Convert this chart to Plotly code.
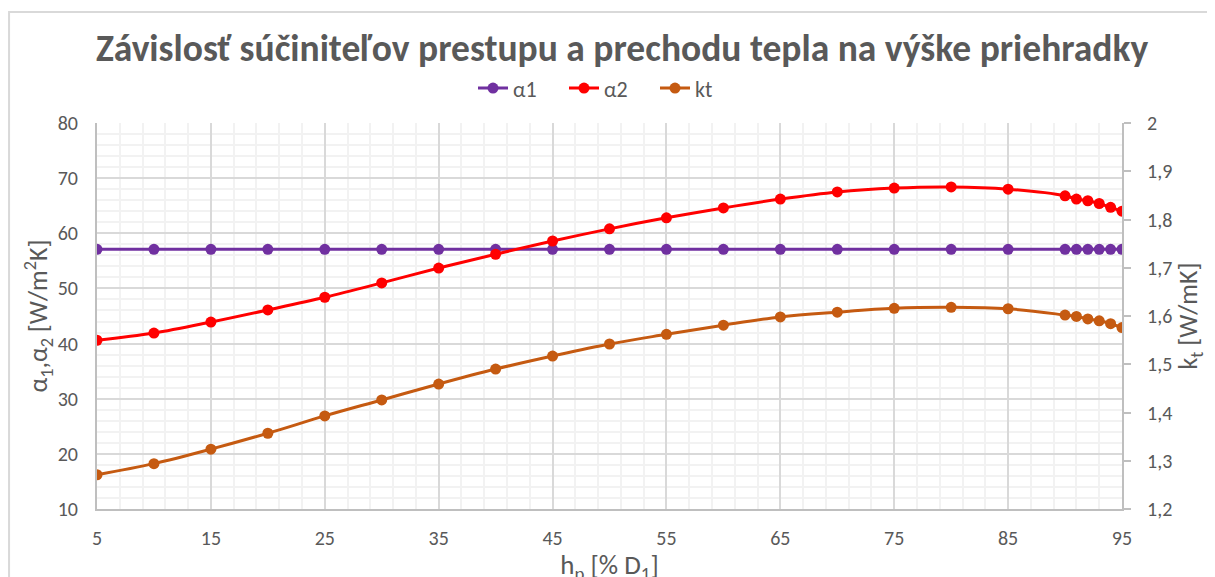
import plotly.graph_objects as go

x = [5, 10, 15, 20, 25, 30, 35, 40, 45, 50, 55, 60, 65, 70, 75, 80, 85, 90, 91, 92, 93, 94, 95]
alpha1 = [57.1] * 23
alpha2 = [40.6, 41.9, 43.9, 46.1, 48.4, 51.0, 53.7, 56.2, 58.6, 60.8, 62.8, 64.6, 66.2, 67.5,
          68.2, 68.4, 68.0, 66.8, 66.2, 65.9, 65.4, 64.7, 64.0]
kt = [1.271, 1.294, 1.324, 1.357, 1.393, 1.426, 1.459, 1.490, 1.517, 1.542, 1.562, 1.581,
      1.598, 1.608, 1.616, 1.618, 1.615, 1.602, 1.599, 1.594, 1.590, 1.584, 1.576]

x_ticks = [5, 15, 25, 35, 45, 55, 65, 75, 85, 95]
y1_ticks = [10, 20, 30, 40, 50, 60, 70, 80]
y2_ticks = [1.2, 1.3, 1.4, 1.5, 1.6, 1.7, 1.8, 1.9, 2.0]
y2_labels = ["1,2", "1,3", "1,4", "1,5", "1,6", "1,7", "1,8", "1,9", "2"]

FONT = "Carlito, Lato, sans-serif"
GRAY = "#595959"

fig = go.Figure()
fig.add_trace(go.Scatter(x=x, y=alpha1, name="α1", mode="lines+markers",
                         line=dict(color="#7030A0", width=3, shape="spline"),
                         marker=dict(size=11, color="#7030A0")))
fig.add_trace(go.Scatter(x=x, y=alpha2, name="α2", mode="lines+markers",
                         line=dict(color="#FF0000", width=3, shape="spline"),
                         marker=dict(size=11, color="#FF0000")))
fig.add_trace(go.Scatter(x=x, y=kt, name="kt", mode="lines+markers", yaxis="y2",
                         line=dict(color="#C55A11", width=3, shape="spline"),
                         marker=dict(size=11, color="#C55A11")))

fig.update_layout(
    width=1215, height=577,
    paper_bgcolor="white", plot_bgcolor="white",
    margin=dict(l=89, r=101, t=115, b=76, autoexpand=False),
    font=dict(family=FONT, color=GRAY, size=20),
    title=dict(text="<b>Závislosť súčiniteľov prestupu a prechodu tepla na výške priehradky</b>",
               x=0.5054, xanchor="center", y=0.931, yanchor="middle", yref="container",
               font=dict(size=37.5, color=GRAY, family=FONT)),
    legend=dict(orientation="h", x=0.5, xanchor="center", y=1.09, yanchor="middle",
                font=dict(size=22, color=GRAY), tracegroupgap=0,
                entrywidth=46, entrywidthmode="pixels",
                bgcolor="rgba(0,0,0,0)"),
    xaxis=dict(range=[5, 95], tickvals=x_ticks, showgrid=True, gridcolor="#d9d9d9", gridwidth=2,
               minor=dict(dtick=2, tick0=5, showgrid=True, gridcolor="#f2f2f2", gridwidth=2),
               showline=True, linecolor="#bfbfbf", linewidth=2, zeroline=False,
               ticks="", ticklabelstandoff=10, automargin=False,
               title=dict(text="h<sub>p</sub> [% D<sub>1</sub>]", standoff=4,
                          font=dict(size=27, color=GRAY))),
    yaxis=dict(range=[10, 80], tickvals=y1_ticks, showgrid=True, gridcolor="#d9d9d9", gridwidth=2,
               minor=dict(dtick=2, tick0=10, showgrid=True, gridcolor="#f2f2f2", gridwidth=2),
               showline=True, linecolor="#bfbfbf", linewidth=2, zeroline=False,
               ticks="", ticklabelstandoff=13, automargin=False,
               title=dict(text="α<sub>1</sub>,α<sub>2</sub> [W/m<sup>2</sup>K]", standoff=0,
                          font=dict(size=26, color=GRAY))),
    yaxis2=dict(range=[1.2, 2.0], tickvals=y2_ticks, ticktext=y2_labels, overlaying="y",
                side="right", showgrid=False, zeroline=False,
                showline=True, linecolor="#bfbfbf", linewidth=2,
                ticks="outside", ticklen=7, tickcolor="#bfbfbf", tickwidth=2,
                ticklabelstandoff=12, automargin=False,
                title=dict(text="k<sub>t</sub> [W/mK]", standoff=0,
                           font=dict(size=26, color=GRAY))),
    shapes=[dict(type="rect", xref="paper", yref="paper",
                 x0=-0.0858, x1=1.2, y0=-0.3, y1=1.2876,
                 line=dict(color="#d9d9d9", width=2), fillcolor="rgba(0,0,0,0)", layer="below")],
)

fig.write_html("out.html")
